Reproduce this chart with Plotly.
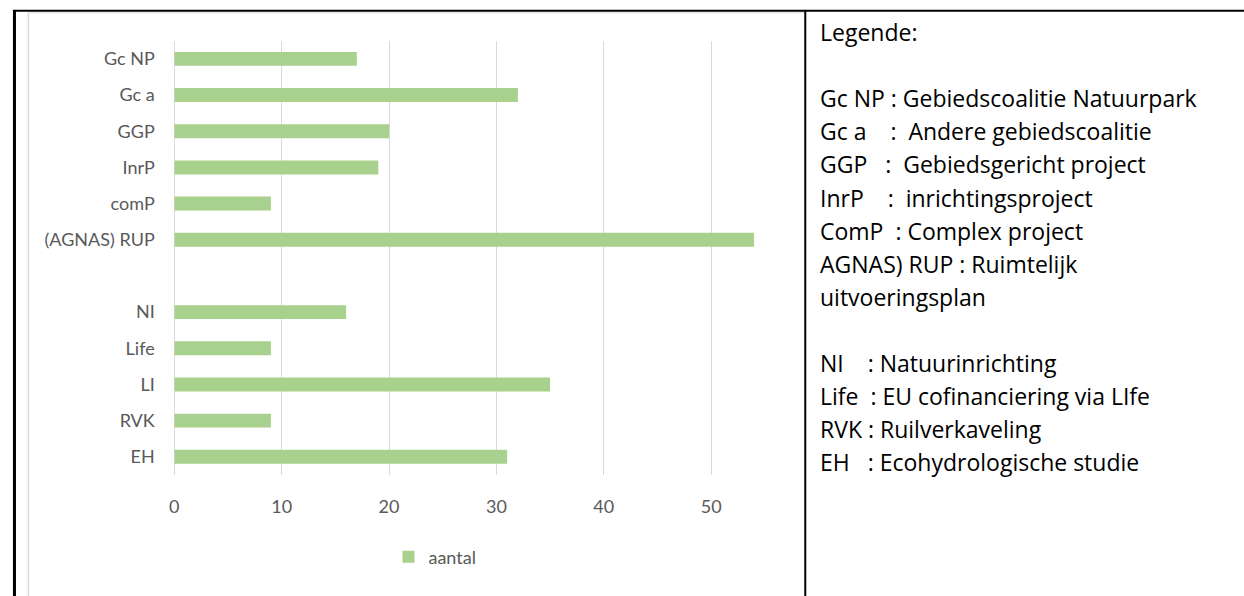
import plotly.graph_objects as go

W, H = 1244, 596

categories = ["Gc NP", "Gc a", "GGP", "InrP", "comP", "(AGNAS) RUP", " ",
              "NI", "Life", "LI", "RVK", "EH"]
aantal = [17, 32, 20, 19, 9, 54, None, 16, 9, 35, 9, 31]
x_ticks = [0, 10, 20, 30, 40, 50]
series_name = "aantal"

legend_lines = [
    "Legende:",
    "",
    "Gc NP : Gebiedscoalitie Natuurpark",
    "Gc a\u00a0\u00a0\u00a0\u00a0:\u00a0 Andere gebiedscoalitie",
    "GGP\u00a0\u00a0\u00a0:\u00a0 Gebiedsgericht project",
    "InrP\u00a0\u00a0\u00a0\u00a0:\u00a0 inrichtingsproject",
    "ComP\u00a0 : Complex project",
    "AGNAS) RUP : Ruimtelijk",
    "uitvoeringsplan",
    "",
    "NI\u00a0\u00a0\u00a0 : Natuurinrichting",
    "Life\u00a0 : EU cofinanciering via LIfe",
    "RVK : Ruilverkaveling",
    "EH\u00a0\u00a0 : Ecohydrologische studie",
]

def px(x):
    return x / W

def py(y):
    return 1 - y / H

fig = go.Figure()
fig.add_trace(go.Bar(
    y=categories, x=aantal, orientation="h", name=series_name,
    marker=dict(color="#A9D18E", line=dict(width=0)),
    showlegend=True,
))

chart_font = dict(family="Lato", size=18, color="#595959")

fig.update_layout(
    width=W, height=H,
    margin=dict(l=0, r=0, t=0, b=0),
    paper_bgcolor="white", plot_bgcolor="white",
    bargap=0.615,
    font=chart_font,
    xaxis=dict(
        domain=[px(170), px(800)],
        range=[0, 630 / 10.78],
        tickvals=x_ticks,
        showgrid=True, gridcolor="#D9D9D9", gridwidth=1,
        zeroline=True, zerolinecolor="#D9D9D9", zerolinewidth=1,
        showline=False,
        ticks="outside", ticklen=15, tickcolor="rgba(0,0,0,0)",
        tickfont=chart_font,
    ),
    yaxis=dict(
        domain=[py(474.9), py(40.8)],
        categoryorder="array", categoryarray=categories,
        autorange="reversed",
        showgrid=False, zeroline=False, showline=False,
        ticks="outside", ticklen=15, tickcolor="rgba(0,0,0,0)",
        tickfont=chart_font,
    ),
    legend=dict(
        orientation="h",
        x=px(385), xanchor="left",
        y=py(557), yanchor="middle",
        font=chart_font,
        bgcolor="rgba(0,0,0,0)",
        itemwidth=30,
    ),
    showlegend=True,
)

shapes = []
# light gray chart frame
shapes.append(dict(type="line", xref="paper", yref="paper",
                   x0=px(23.5), x1=px(23.5), y0=py(12), y1=py(600),
                   line=dict(color="#D9D9D9", width=1.5)))
shapes.append(dict(type="line", xref="paper", yref="paper",
                   x0=px(23), x1=px(803), y0=py(12.5), y1=py(12.5),
                   line=dict(color="#E3E3E3", width=1.5)))
# black table borders
shapes.append(dict(type="line", xref="paper", yref="paper",
                   x0=px(8), x1=px(1250), y0=py(10.8), y1=py(10.8),
                   line=dict(color="black", width=2)))
shapes.append(dict(type="line", xref="paper", yref="paper",
                   x0=px(9.5), x1=px(9.5), y0=py(10), y1=py(600),
                   line=dict(color="black", width=3)))
shapes.append(dict(type="line", xref="paper", yref="paper",
                   x0=px(803.5), x1=px(803.5), y0=py(10), y1=py(600),
                   line=dict(color="black", width=2)))
fig.update_layout(shapes=shapes)

annotations = []
for i, line in enumerate(legend_lines):
    if not line:
        continue
    annotations.append(dict(
        xref="paper", yref="paper",
        x=px(816), y=py(32 + i * 33.1),
        xanchor="left", yanchor="middle",
        text=line, showarrow=False,
        font=dict(family="Open Sans", size=23, color="#000000"),
    ))
fig.update_layout(annotations=annotations)

fig.write_html(
    "out.html",
    config={"displayModeBar": False},
    post_script="document.body.style.margin='0';document.body.style.overflow='hidden';",
)
